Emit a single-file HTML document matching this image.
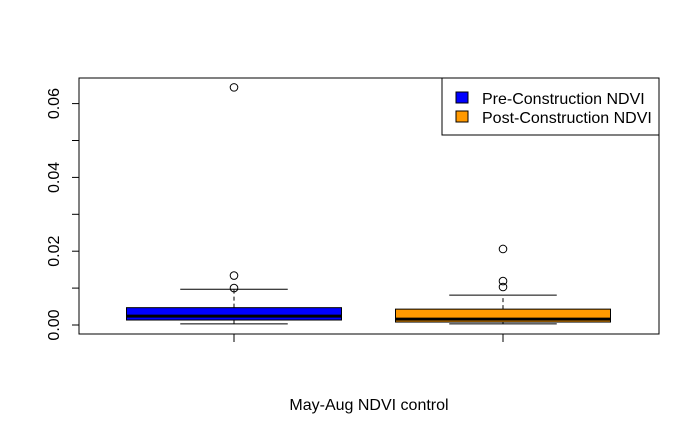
<!DOCTYPE html>
<html><head><meta charset="utf-8"><style>body{margin:0;background:#fff}svg{display:block;font-family:"Liberation Sans",Arial,sans-serif}</style></head>
<body>
<svg id="chart" width="700" height="432" viewBox="0 0 700 432"></svg>
<script>
const categories = ["Pre-Construction NDVI","Post-Construction NDVI"];
const colors = ["#0000ff","#ff9900"];
const lowWhisker = [0.0003, 0.0003];
const q1 = [0.00135, 0.0008];
const medians = [0.0024, 0.0016];
const q3 = [0.0047, 0.0043];
const highWhisker = [0.0097, 0.0081];
const outliers = [[0.0644, 0.0134, 0.0100],[0.0206, 0.0119, 0.0103]];
const yTicks = [0, 0.01, 0.02, 0.03, 0.04, 0.05, 0.06];
const yLabels = ["0.00","","0.02","","0.04","","0.06"];

const svg = document.getElementById('chart');
const NS = 'http://www.w3.org/2000/svg';
const L=79,R=659,T=78,B=334;
const y = v => 325 - v*3690;
const xc = i => 234 + i*269;
const bw = 215;
function mk(tag, attrs, parent){const e=document.createElementNS(NS,tag);for(const k in attrs)e.setAttribute(k,attrs[k]);(parent||svg).appendChild(e);return e;}

const frame = mk('rect',{x:L,y:T,width:R-L,height:B-T,fill:'none',stroke:'#000','stroke-width':1});



yTicks.forEach((v,i)=>{
  const t = mk('line',{x1:L-7,x2:L,y1:y(v),y2:y(v),stroke:'#000'});
  
  
  if(yLabels[i]){
    const tx = mk('text',{x:0,y:0,'font-size':16,'text-anchor':'middle',transform:`translate(59,${y(v)}) rotate(-90)`});
    tx.textContent = yLabels[i];
    
    
  }
});

categories.forEach((c,i)=>{
  const g = mk('g',{});
  
  
  const cx = xc(i);
  mk('line',{x1:cx,x2:cx,y1:y(q3[i]),y2:y(highWhisker[i]),stroke:'#000','stroke-dasharray':'4,3'},g);
  mk('line',{x1:cx,x2:cx,y1:y(q1[i]),y2:y(lowWhisker[i]),stroke:'#000','stroke-dasharray':'4,3'},g);
  mk('line',{x1:cx-bw/4,x2:cx+bw/4,y1:y(highWhisker[i]),y2:y(highWhisker[i]),stroke:'#000'},g);
  mk('line',{x1:cx-bw/4,x2:cx+bw/4,y1:y(lowWhisker[i]),y2:y(lowWhisker[i]),stroke:'#000'},g);
  mk('rect',{x:cx-bw/2,y:y(q3[i]),width:bw,height:y(q1[i])-y(q3[i]),fill:colors[i],stroke:'#000'},g);
  mk('line',{x1:cx-bw/2,x2:cx+bw/2,y1:y(medians[i]),y2:y(medians[i]),stroke:'#000','stroke-width':3},g);
  outliers[i].forEach(o=>{
    const p = mk('circle',{cx:cx,cy:y(o),r:3.8,fill:'none',stroke:'#000'},g);
    
    
  });
  const xt = mk('line',{x1:cx,x2:cx,y1:B,y2:B+8,stroke:'#000'});
  
  
});

const xl = mk('text',{x:369,y:410,'font-size':16,'text-anchor':'middle'});
xl.textContent='May-Aug NDVI control';



const lg = mk('g',{});


mk('rect',{x:442,y:78,width:217,height:57,fill:'#fff',stroke:'#000'},lg);
categories.forEach((c,i)=>{
  const yy = 98 + i*19;
  mk('rect',{x:456,y:yy-6,width:12,height:11,fill:colors[i],stroke:'#000'},lg);
  const t = mk('text',{x:482,y:yy+6,'font-size':16},lg);
  t.textContent=c;
  
  
});
</script>
</body></html>
